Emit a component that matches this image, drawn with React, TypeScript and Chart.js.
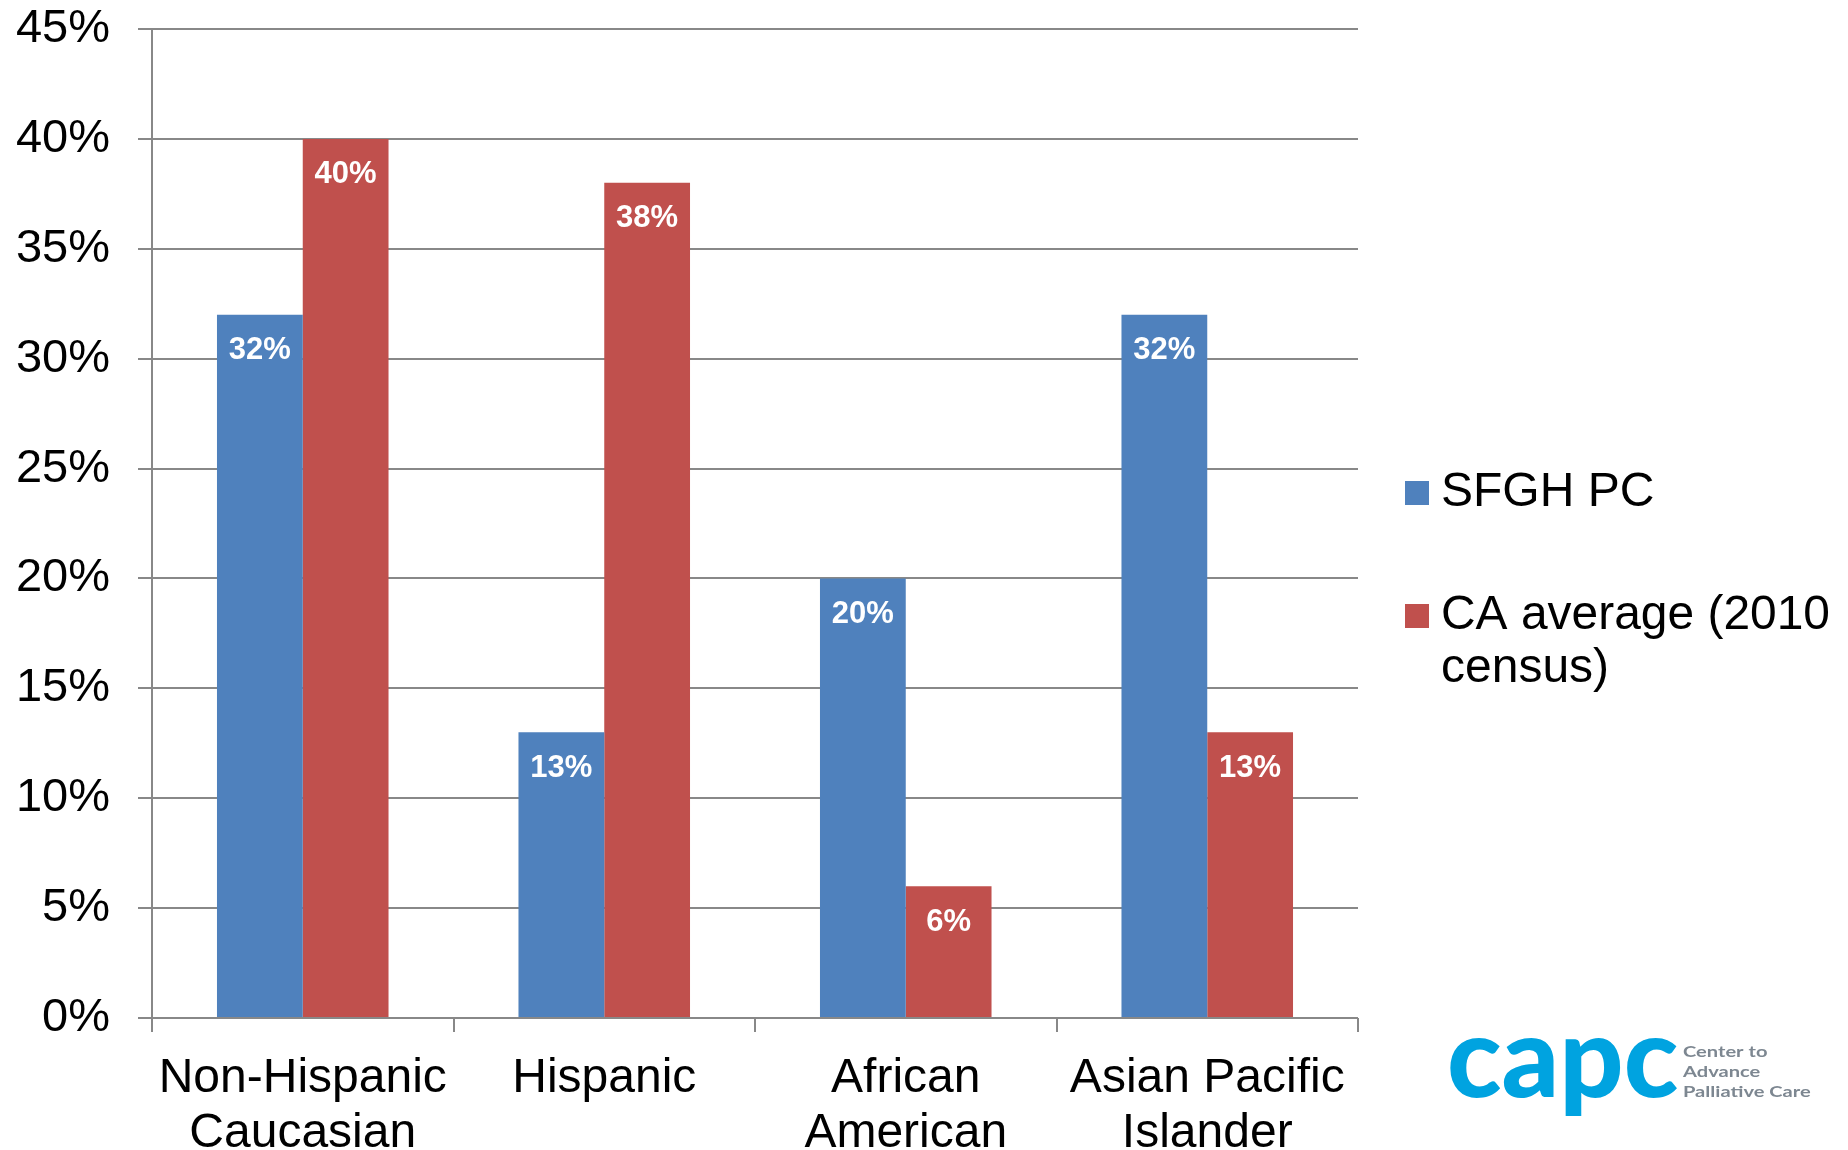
import React, { useEffect, useRef } from "react";
import { Chart, registerables } from "chart.js";

Chart.register(...registerables);

// ---- data ----
const categories: (string | string[])[] = [
  ["Non-Hispanic", "Caucasian"],
  "Hispanic",
  ["African", "American"],
  ["Asian Pacific", "Islander"],
];
const sfghValues = [32, 13, 20, 32];
const caValues = [40, 38, 6, 13];
const seriesNames = ["SFGH PC", "CA average (2010 census)"];
const legendLines = [["SFGH PC"], ["CA average (2010", "census)"]];
const seriesColors = ["#4f81bd", "#c0504d"];
const yMin = 0;
const yMax = 45;
const yStep = 5;
const logoWord = "capc";
const logoTagline = ["Center to", "Advance", "Palliative Care"];

// ---- styling ----
const W = 1848;
const H = 1150;
const FONT = "'Liberation Sans', Arial, Helvetica, sans-serif";
const GRID = "#888888";

const valueLabels = {
  id: "valueLabels",
  afterDatasetsDraw(chart: any) {
    const { ctx } = chart;
    ctx.save();
    ctx.fillStyle = "#ffffff";
    ctx.font = `bold 31px ${FONT}`;
    ctx.textAlign = "center";
    ctx.textBaseline = "middle";
    chart.data.datasets.forEach((ds: any, di: number) => {
      const meta = chart.getDatasetMeta(di);
      meta.data.forEach((bar: any, i: number) => {
        ctx.fillText(`${ds.data[i]}%`, bar.x, bar.y + 36);
      });
    });
    ctx.restore();
  },
};

const sideLegend = {
  id: "sideLegend",
  afterDraw(chart: any) {
    const { ctx } = chart;
    ctx.save();
    const boxX = 1405;
    const textX = 1441;
    const firstRowCenter = [493, 616];
    const lineH = 53;
    ctx.font = `48px ${FONT}`;
    ctx.textBaseline = "middle";
    ctx.textAlign = "left";
    legendLines.forEach((lines, i) => {
      ctx.fillStyle = chart.data.datasets[i].backgroundColor;
      ctx.fillRect(boxX, firstRowCenter[i] - 12, 24, 24);
      ctx.fillStyle = "#000000";
      lines.forEach((t, j) => {
        ctx.fillText(t, textX, firstRowCenter[i] + j * lineH, W - textX - 18);
      });
    });
    ctx.restore();
  },
};

const logo = {
  id: "logo",
  afterDraw(chart: any) {
    const { ctx } = chart;
    ctx.save();
    // word mark
    ctx.font = "900 112px Lato, 'Open Sans', sans-serif";
    ctx.textBaseline = "alphabetic";
    ctx.textAlign = "left";
    const m = ctx.measureText(logoWord);
    const inkW = m.actualBoundingBoxLeft + m.actualBoundingBoxRight;
    const sx = 227 / inkW;
    ctx.translate(1450, 1097);
    ctx.scale(sx, 1);
    ctx.fillStyle = "#00a3e0";
    ctx.fillText(logoWord, m.actualBoundingBoxLeft, 0);
    ctx.restore();

    // tagline
    ctx.save();
    ctx.font = "700 16px Lato, 'Open Sans', sans-serif";
    ctx.fillStyle = "#7d8791";
    const m2 = ctx.measureText(logoTagline[2]);
    const s2 = 127 / (m2.actualBoundingBoxLeft + m2.actualBoundingBoxRight);
    const baselines = [1056.5, 1076.5, 1096.5];
    logoTagline.forEach((t, i) => {
      ctx.save();
      ctx.translate(1683, baselines[i]);
      ctx.scale(s2, 1);
      ctx.fillText(t, 0, 0);
      ctx.restore();
    });
    ctx.restore();
  },
};

export default function App() {
  const canvasRef = useRef<HTMLCanvasElement | null>(null);

  useEffect(() => {
    document.body.style.margin = "0";
    const canvas = canvasRef.current;
    if (!canvas) return;
    const chart = new Chart(canvas, {
      type: "bar",
      data: {
        labels: categories,
        datasets: [
          {
            label: seriesNames[0],
            data: sfghValues,
            backgroundColor: seriesColors[0],
            borderWidth: 0,
            barPercentage: 1,
            categoryPercentage: 0.569,
          },
          {
            label: seriesNames[1],
            data: caValues,
            backgroundColor: seriesColors[1],
            borderWidth: 0,
            barPercentage: 1,
            categoryPercentage: 0.569,
          },
        ],
      },
      options: {
        responsive: false,
        animation: false,
        devicePixelRatio: 1,
        layout: {
          autoPadding: false,
          padding: { top: 29, right: 490, left: 0, bottom: 0 },
        },
        plugins: {
          legend: { display: false },
          tooltip: { enabled: false },
        },
        scales: {
          x: {
            offset: true,
            grid: {
              offset: true,
              drawOnChartArea: false,
              drawTicks: true,
              tickLength: 14,
              color: GRID,
              lineWidth: 2,
            },
            border: { display: false },
            ticks: {
              color: "#000000",
              font: { family: FONT, size: 48, lineHeight: 1.15 },
              padding: 19,
              maxRotation: 0,
              autoSkip: false,
            },
            afterFit(scale: any) {
              scale.height = 132;
              scale.paddingLeft = 0;
              scale.paddingRight = 0;
            },
          },
          y: {
            min: yMin,
            max: yMax,
            grid: {
              color: GRID,
              lineWidth: 2,
              drawTicks: true,
              tickLength: 14,
            },
            border: { display: true, color: GRID, width: 2 },
            ticks: {
              stepSize: yStep,
              color: "#000000",
              font: { family: FONT, size: 47 },
              padding: 28,
              callback: (v: any) => `${v}%`,
            },
            afterFit(scale: any) {
              scale.width = 152;
              scale.paddingTop = 0;
              scale.paddingBottom = 0;
            },
          },
        },
      },
      plugins: [valueLabels, sideLegend, logo],
    });
    return () => chart.destroy();
  }, []);

  return (
    <div style={{ position: "absolute", left: 0, top: 0, width: W, height: H, background: "#ffffff" }}>
      <canvas ref={canvasRef} width={W} height={H} style={{ display: "block" }} />
    </div>
  );
}
